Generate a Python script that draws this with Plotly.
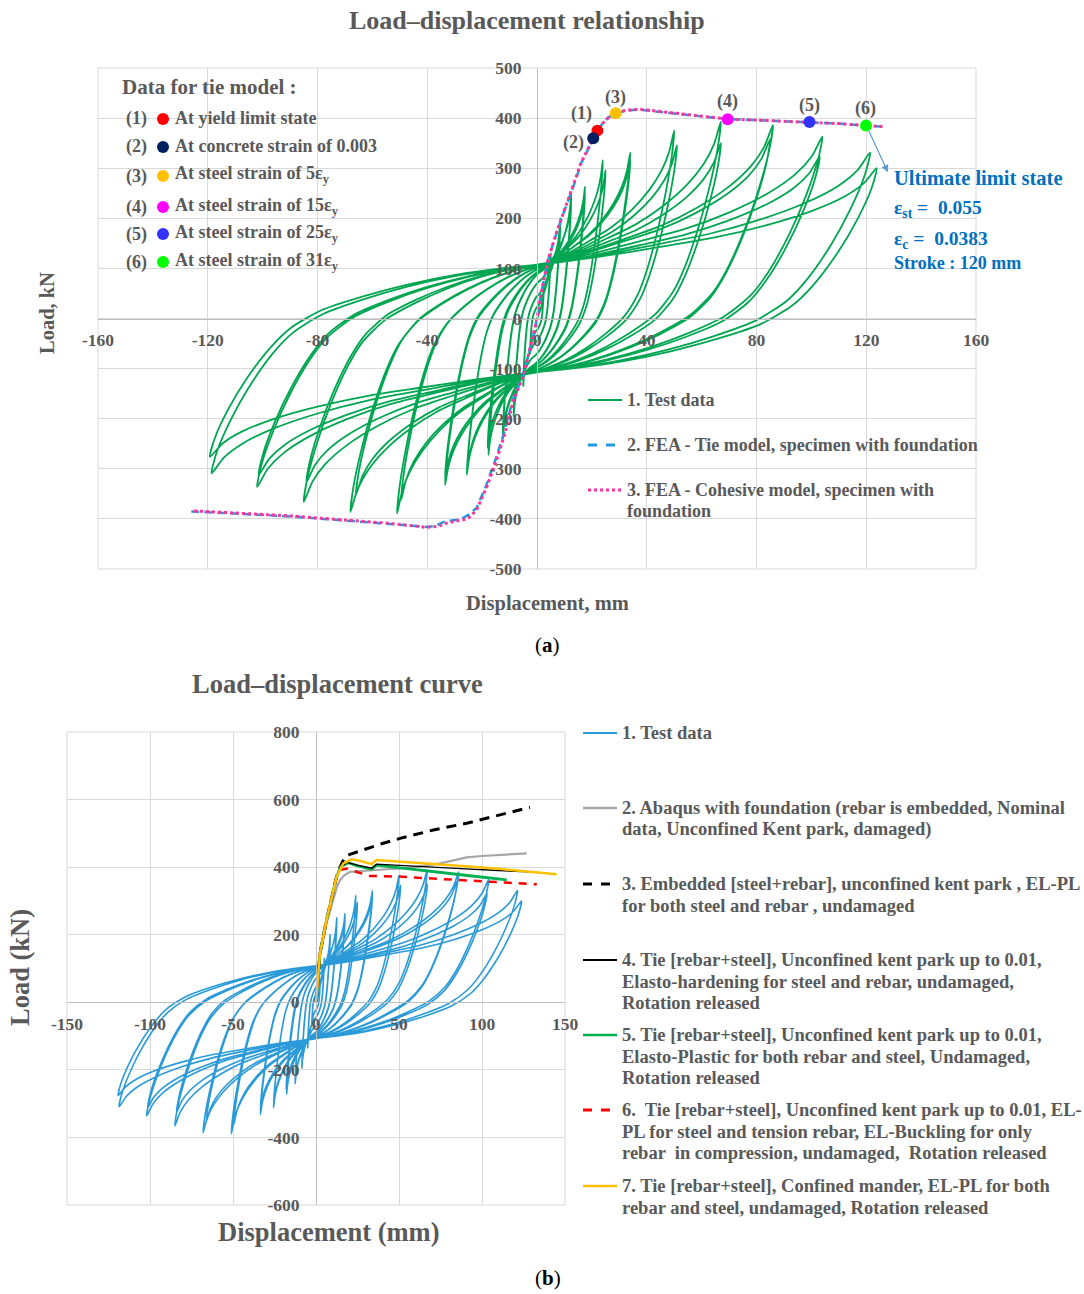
import plotly.graph_objects as go

# ---------------------------------------------------------------------------
# Cyclic test data: one entry per cycle (peak displacement / load each way)
# ---------------------------------------------------------------------------
pos_disp = [2.5, 2.5, 5, 5, 8.5, 8.5, 12.5, 12.5, 17.5, 17.5, 24, 25, 34, 34,
            50, 51, 67, 67, 86, 85, 104, 103, 121.4, 123.8]
pos_load = [65, 62, 130, 125, 200, 190, 250, 238, 263, 250, 316, 296, 331, 317,
            375, 346, 393, 350, 386, 358, 363, 323, 331, 300]
neg_disp = [-2.5, -2.5, -5, -5, -8.5, -8.5, -12.5, -12.5, -17.7, -18, -25.6, -25.3,
            -33.5, -33.5, -51, -49.5, -68, -66, -85, -84, -102, -101.4, -118.6, -119.2]
neg_load = [-70, -66, -135, -128, -195, -188, -240, -232, -272, -258, -312, -298,
            -332, -318, -389, -362, -386, -352, -366, -326, -336, -312, -309, -276]
# pinched crossing of the vertical axis between half cycles
pinch_disp = [0.4, 0.4, 1, 1, 2, 2, 3, 3, 4, 4, 4, 4, 4, 4, 5, 5, 5, 5, 5, 5, 5, 5, 5, 5]
pinch_load = [25, 25, 50, 50, 80, 80, 100, 100, 105, 105, 108, 108, 110, 110,
              112, 112, 112, 112, 112, 112, 110, 110, 110, 110]

# branch shape of a loop (fraction of the way from the pinch point to the peak)
load_branch_u = [0, 0.15, 0.33, 0.5, 0.66, 0.8, 0.9, 0.96, 1.0]
load_branch_v = [0, 0.07, 0.17, 0.27, 0.40, 0.55, 0.70, 0.84, 1.0]
unload_branch_u = [1.0, 0.985, 0.945, 0.89, 0.82, 0.76, 0.67, 0.55, 0.42, 0.28, 0.14, 0.0]
unload_branch_v = [1.0, 0.90, 0.75, 0.59, 0.43, 0.33, 0.24, 0.17, 0.11, 0.06, 0.025, 0.0]

# ---------------------------------------------------------------------------
# FEA pushover curves, panel (a)
# ---------------------------------------------------------------------------
cohesive_disp = [-125, -115, -102, -90, -77.9, -65, -53.6, -45, -40.2, -36, -33.5, -30,
                 -26.8, -24.5, -22, -18.3, -14.7, -11.7, -8.6, -5, -2, 0,
                 1.5, 4, 7, 9.6, 12, 13.8, 16, 18.5, 20.5, 22, 24, 26, 28.7, 32, 35,
                 37.5, 42, 50, 60, 69.5, 80, 90, 99.3, 110, 120, 126]
cohesive_load = [-384, -387, -390, -394, -399, -404, -409, -414, -417, -415, -409, -405,
                 -402, -396, -382, -336, -282, -229, -163, -116, -50, 0,
                 50, 117, 170, 210, 245, 276, 310, 338, 360, 375, 390, 401, 410, 415, 417,
                 417.5, 415, 410, 404, 398, 396, 394, 392, 389, 385, 383]
tie_disp = [-126, -115, -102, -90, -78, -65, -54, -45, -40, -37, -34, -31,
            -28, -25, -22, -18.5, -15, -12, -8.8, -5.2, -2, 0,
            1.5, 4, 7, 9.6, 12, 14, 16, 18.5, 20.5, 22, 24, 26, 28.7, 32, 35,
            37.5, 42, 50, 60, 69.5, 80, 90, 99.3, 110, 120, 125]
tie_load = [-385, -388, -391, -395, -400, -405, -410, -414, -416, -414, -406, -403,
            -401, -392, -378, -333, -280, -228, -162, -116, -50, 0,
            50, 116, 169, 209, 244, 275, 309, 337, 360, 375, 390, 401, 410, 414, 416,
            417, 414, 409, 403, 398, 396, 394, 392, 389, 385, 383]

# state points of the tie model
state_labels = ["(1)", "(2)", "(3)", "(4)", "(5)", "(6)"]
state_disp = [22, 20.5, 28.7, 69.5, 99.3, 119.9]
state_load = [375, 360, 409.6, 397.5, 392, 385]
state_colors = ["#FF0000", "#002060", "#FFC000", "#FF00FF", "#3333FF", "#00FF00"]
state_text = ["At yield limit state", "At concrete strain of 0.003",
              "At steel strain of 5ε<sub>y</sub>", "At steel strain of 15ε<sub>y</sub>",
              "At steel strain of 25ε<sub>y</sub>", "At steel strain of 31ε<sub>y</sub>"]

# ---------------------------------------------------------------------------
# FEA envelopes, panel (b)
# ---------------------------------------------------------------------------
abaqus_disp = [0, 2.4, 6.4, 10, 12.5, 14.5, 17, 20.5, 30, 40, 50.6, 60, 74.7, 82, 90.8, 100, 110, 126.9]
abaqus_load = [0, 140, 235, 300, 340, 362, 376, 386, 390, 393, 396, 400, 411, 420, 429, 433, 436, 441]
embedded_disp = [0, 2.4, 6.4, 10, 12.4, 14.5, 16, 17.5, 20, 30, 40, 50.6, 60, 70.7, 90.8, 110.8, 128.9]
embedded_load = [0, 145, 244, 320, 372, 400, 418, 431, 437, 454, 470, 485, 497, 510, 530, 554, 577]
hardening_disp = [0, 2.4, 6.4, 10, 12.4, 15, 18.5, 25, 33.5, 36.5, 50, 70, 90, 110, 127.9]
hardening_load = [0, 145, 244, 320, 372, 400, 414, 406, 397, 409, 405, 400, 395, 390, 386]
plastic_disp = [0, 2.4, 6.4, 10, 12.4, 15, 19.5, 25, 33.5, 36.5, 50, 70, 90, 114.9]
plastic_load = [0, 145, 244, 320, 372, 402, 413, 404, 394, 406, 398, 388, 376, 362]
buckling_disp = [0, 2.4, 6.4, 10, 12.4, 15, 18.5, 25, 32.5, 50, 70, 90, 110, 133]
buckling_load = [0, 145, 244, 320, 372, 392, 396, 385, 374, 372, 366, 360, 355, 349]
mander_disp = [0, 2.4, 6.4, 10, 12.4, 16.5, 21.5, 27, 33.5, 36.5, 50, 70, 90, 110, 130, 145]
mander_load = [0, 145, 244, 320, 372, 411, 423, 418, 409, 421, 417, 411, 403, 395, 387, 379]

# axis ticks
a_xticks = [-160, -120, -80, -40, 0, 40, 80, 120, 160]
a_yticks = [-500, -400, -300, -200, -100, 0, 100, 200, 300, 400, 500]
b_xticks = [-150, -100, -50, 0, 50, 100, 150]
b_yticks = [-600, -400, -200, 0, 200, 400, 600, 800]

W, H = 1084, 1294
FONT = "Liberation Serif"
GREY = "#595959"


def px(x):
    return x / W


def py(y):
    return 1 - y / H


def branch(x0, y0, xp, yp, x1, y1):
    """Loading from (x0, y0) to the peak, then unloading to (x1, y1)."""
    xs, ys = [], []
    for u, v in zip(load_branch_u, load_branch_v):
        xs.append(x0 + u * (xp - x0))
        ys.append(y0 + v * (yp - y0))
    for u, v in zip(unload_branch_u[1:], unload_branch_v[1:]):
        xs.append(x1 + u * (xp - x1))
        ys.append(y1 + v * (yp - y1))
    return xs, ys


def hysteresis():
    xs, ys = [0.0], [0.0]
    for i in range(len(pos_disp)):
        sx, sy = xs[-1], ys[-1]
        bx, by = branch(sx, sy, pos_disp[i], pos_load[i], -pinch_disp[i], -pinch_load[i])
        xs += bx[1:]
        ys += by[1:]
        bx, by = branch(xs[-1], ys[-1], neg_disp[i], neg_load[i], pinch_disp[i], pinch_load[i])
        xs += bx[1:]
        ys += by[1:]
    return xs, ys


test_x, test_y = hysteresis()

fig = go.Figure()

# ---------------- panel (a) ----------------
fig.add_trace(go.Scatter(x=test_x, y=test_y, mode="lines", xaxis="x", yaxis="y",
                         line=dict(color="#00A651", width=1.8, shape="spline", smoothing=0.7),
                         showlegend=False, hoverinfo="skip"))
fig.add_trace(go.Scatter(x=tie_disp, y=tie_load, mode="lines", xaxis="x", yaxis="y",
                         line=dict(color="#1F9BDE", width=2.5, dash="8px,5px"),
                         showlegend=False, hoverinfo="skip"))
fig.add_trace(go.Scatter(x=cohesive_disp, y=cohesive_load, mode="lines", xaxis="x", yaxis="y",
                         line=dict(color="#FF3399", width=3, dash="dot"),
                         showlegend=False, hoverinfo="skip"))
fig.add_trace(go.Scatter(x=state_disp, y=state_load, mode="markers", xaxis="x", yaxis="y",
                         marker=dict(color=state_colors, size=12, line=dict(width=0)),
                         showlegend=False, hoverinfo="skip"))

# ---------------- panel (b) ----------------
fig.add_trace(go.Scatter(x=test_x, y=test_y, mode="lines", xaxis="x2", yaxis="y2",
                         line=dict(color="#2A9AD8", width=1.6, shape="spline", smoothing=0.7),
                         showlegend=False, hoverinfo="skip"))
b_series = [
    (abaqus_disp, abaqus_load, dict(color="#A6A6A6", width=2.2)),
    (embedded_disp, embedded_load, dict(color="#000000", width=3, dash="10px,7px")),
    (plastic_disp, plastic_load, dict(color="#00B050", width=2.8)),
    (hardening_disp, hardening_load, dict(color="#000000", width=1.4)),
    (buckling_disp, buckling_load, dict(color="#FF0000", width=2.5, dash="8px,7px")),
    (mander_disp, mander_load, dict(color="#FFC000", width=2.5)),
]
for xs, ys, ln in b_series:
    fig.add_trace(go.Scatter(x=xs, y=ys, mode="lines", xaxis="x2", yaxis="y2", line=ln,
                             showlegend=False, hoverinfo="skip"))

tickfont = dict(family=FONT, size=17.5, color=GREY, weight="bold")


def axis(domain, rng, ticks, pos, standoff):
    return dict(domain=domain, range=rng, tickvals=ticks,
                ticktext=[str(t) for t in ticks], anchor="free", position=pos,
                showgrid=True, gridcolor="#D9D9D9", gridwidth=1, zeroline=False,
                showline=True, linecolor="#BFBFBF", linewidth=1, ticks="",
                tickfont=tickfont, ticklabelstandoff=standoff, fixedrange=True,
                automargin=False)


ax_dom = [px(98), px(976)]
ay_dom = [py(569), py(68)]
bx_dom = [px(67), px(565)]
by_dom = [py(1205), py(732)]

layout = dict(
    width=W, height=H, margin=dict(l=0, r=0, t=0, b=0, pad=0, autoexpand=False),
    paper_bgcolor="white", plot_bgcolor="white",
    xaxis=axis(ax_dom, [-160, 160], a_xticks, (ay_dom[0] + ay_dom[1]) / 2, 5),
    yaxis=axis(ay_dom, [-500, 500], a_yticks, (ax_dom[0] + ax_dom[1]) / 2, 12),
    xaxis2=axis(bx_dom, [-150, 150], b_xticks,
                by_dom[0] + (by_dom[1] - by_dom[0]) * 600 / 1400, 6),
    yaxis2=axis(by_dom, [-600, 800], b_yticks, (bx_dom[0] + bx_dom[1]) / 2, 13),
)
fig.update_layout(**layout)

ann = []
shapes = []


def text(x, y, s, size=18, color=GREY, xanchor="left", bold=True, **kw):
    ann.append(dict(x=px(x), y=py(y), xref="paper", yref="paper", showarrow=False,
                    text=f"<b>{s}</b>" if bold else s, xanchor=xanchor, yanchor="middle",
                    borderpad=0, font=dict(family=FONT, size=size, color=color), **kw))


# plot-area frames
for (x0, x1), (y0, y1) in [((98, 976), (68, 569)), ((67, 565), (732, 1205))]:
    shapes.append(dict(type="rect", xref="paper", yref="paper", x0=px(x0), x1=px(x1),
                       y0=py(y1), y1=py(y0), line=dict(color="#D9D9D9", width=1),
                       layer="below"))

# titles / axis titles
text(527, 20, "Load–displacement relationship", size=26, xanchor="center")
text(547, 603, "Displacement, mm", size=20.5, xanchor="center")
text(47, 313, "Load, kN", size=20.5, xanchor="center", textangle=-90)
text(547, 645, "(<b>a</b>)", size=21, color="#000000", xanchor="center", bold=False)
text(337, 684, "Load–displacement curve", size=26.5, xanchor="center")
text(329, 1232, "Displacement (mm)", size=26.5, xanchor="center")
text(20, 968, "Load (kN)", size=26.5, xanchor="center", textangle=-90)
text(548, 1278, "(<b>b</b>)", size=21, color="#000000", xanchor="center", bold=False)

# tie-model state list
text(121, 87, "Data for tie model :", size=21)
rows = [119, 147, 176, 207, 234, 262]
for lbl, col, s, yy in zip(state_labels, state_colors, state_text, rows):
    text(136, yy, lbl, size=18, xanchor="center")
    shapes.append(dict(type="circle", xref="paper", yref="paper",
                       x0=px(157), x1=px(169), y0=py(yy + 6), y1=py(yy - 6),
                       fillcolor=col, line=dict(width=0)))
    text(174, yy - 1, s, size=18)

# state point labels next to the markers
shifts = [(-16, 17), (-20, -4), (0, 16), (0, 18), (0, 17), (0, 17)]
for lbl, xd, yd, (dx, dy) in zip(state_labels, state_disp, state_load, shifts):
    ann.append(dict(x=xd, y=yd, xref="x", yref="y", text=f"<b>{lbl}</b>", showarrow=False,
                    xshift=dx, yshift=dy, font=dict(family=FONT, size=18, color=GREY)))

# ultimate limit state callout
ann.append(dict(x=127.9, y=292, xref="x", yref="y", ax=state_disp[5] + 0.8,
                ay=state_load[5] - 8, axref="x", ayref="y", text="", showarrow=True,
                arrowhead=2, arrowsize=1.2, arrowwidth=1.2, arrowcolor="#5B9BD5"))
BLUE = "#0070C0"
text(893, 178, "Ultimate limit state", size=20.5, color=BLUE)
text(893, 209, "ε<sub>st</sub> =  0.055", size=19.5, color=BLUE)
text(893, 240, "ε<sub>c</sub> =  0.0383", size=19.5, color=BLUE)
text(893, 263, "Stroke : 120 mm", size=18, color=BLUE)

# legend (a)
leg_a = [
    (400, dict(color="#00A651", width=2), ["1. Test data"]),
    (445, dict(color="#1F9BDE", width=3, dash="dash"),
     ["2. FEA - Tie model, specimen with foundation"]),
    (490, dict(color="#FF3399", width=3, dash="dot"),
     ["3. FEA - Cohesive model, specimen with", "foundation"]),
]
for yy, ln, lines in leg_a:
    shapes.append(dict(type="line", xref="paper", yref="paper", x0=px(588), x1=px(622),
                       y0=py(yy), y1=py(yy), line=ln))
    for k, s in enumerate(lines):
        text(626, yy + 21 * k, s, size=18)

# legend (b)
leg_b = [
    (733, dict(color="#2A9AD8", width=2), ["1. Test data"]),
    (808, dict(color="#A6A6A6", width=2.5),
     ["2. Abaqus with foundation (rebar is embedded, Nominal",
      "data, Unconfined Kent park, damaged)"]),
    (884, dict(color="#000000", width=3, dash="dash"),
     ["3. Embedded [steel+rebar], unconfined kent park , EL-PL",
      "for both steel and rebar , undamaged"]),
    (960, dict(color="#000000", width=2),
     ["4. Tie [rebar+steel], Unconfined kent park up to 0.01,",
      "Elasto-hardening for steel and rebar, undamaged,", "Rotation released"]),
    (1035, dict(color="#00B050", width=2.5),
     ["5. Tie [rebar+steel], Unconfined kent park up to 0.01,",
      "Elasto-Plastic for both rebar and steel, Undamaged,", "Rotation released"]),
    (1110, dict(color="#FF0000", width=3, dash="dash"),
     ["6.  Tie [rebar+steel], Unconfined kent park up to 0.01, EL-",
      "PL for steel and tension rebar, EL-Buckling for only",
      "rebar  in compression, undamaged,  Rotation released"]),
    (1186, dict(color="#FFC000", width=2.5),
     ["7. Tie [rebar+steel], Confined mander, EL-PL for both",
      "rebar and steel, undamaged, Rotation released"]),
]
for yy, ln, lines in leg_b:
    shapes.append(dict(type="line", xref="paper", yref="paper", x0=px(583), x1=px(617),
                       y0=py(yy), y1=py(yy), line=ln))
    for k, s in enumerate(lines):
        text(621, yy + 21.5 * k, s, size=18.5)

fig.update_layout(annotations=ann, shapes=shapes)
fig.write_html("out.html")
